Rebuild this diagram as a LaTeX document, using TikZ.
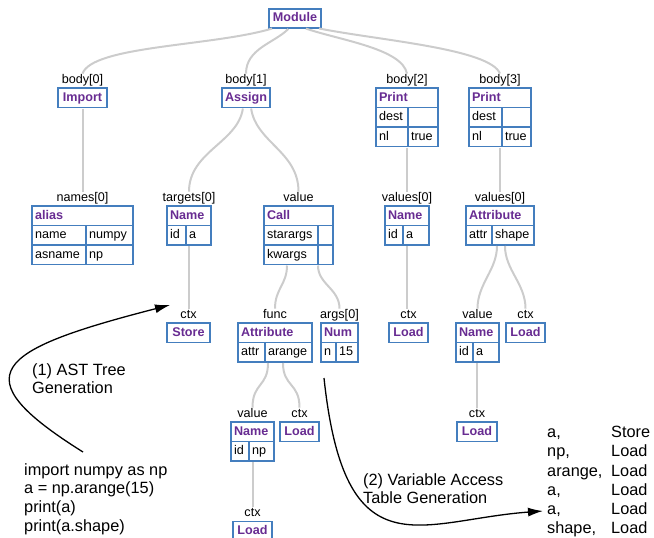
\documentclass[tikz,border=0pt]{standalone}
\usepackage{fontspec}
\setmainfont{Liberation Sans}
\usetikzlibrary{positioning,arrows.meta}
\definecolor{boxblue}{RGB}{68,126,190}
\definecolor{astpurple}{RGB}{104,44,146}
\definecolor{linkgray}{RGB}{204,204,204}
\tikzstyle{box} = [draw=boxblue, fill=white, line width=1.8pt, outer sep=0pt, inner xsep=3pt, inner ysep=0pt, minimum height=19.5pt, text height=9.5pt, text depth=3pt, font=\fontsize{12.6}{15}\selectfont]
\tikzstyle{typebox} = [box, text=astpurple, font=\fontsize{12.6}{15}\selectfont\bfseries]
\tikzstyle{head} = [typebox, align=left, anchor=north west]
\tikzstyle{cell} = [box, align=left, anchor=north west]
\tikzstyle{field} = [inner sep=0pt, text height=9.5pt, text depth=3pt, font=\fontsize{12.6}{15}\selectfont]
\tikzstyle{link} = [draw=linkgray, line width=2pt, shorten <=1pt]
\tikzstyle{flow} = [draw, line width=1.3pt, -{Latex[length=15pt,width=9pt]}]
\tikzstyle{note} = [inner sep=0pt, align=left, anchor=north west, font=\fontsize{16.3}{18.8}\selectfont]

\begin{document}
\begin{tikzpicture}[x=1pt, y=-1pt]
    \useasboundingbox (0,0) rectangle (654,538);
    % module and body
    \node[typebox, minimum width=52pt] (module) at (295,18.5) {Module};
    \node[typebox, minimum width=49pt, anchor=north west] (import) at (58,88) {Import};
    \node[field, above=1.5pt of import] (importlbl) {body[0]};
    \node[typebox, minimum width=48pt, anchor=north west] (assign) at (222,88) {Assign};
    \node[field, above=1.5pt of assign] (assignlbl) {body[1]};
    \node[head, text width=56pt] (printa) at (376,88) {Print};
    \node[cell, text width=26pt] (printak1) at (printa.south west) {dest};
    \node[cell, text width=24pt] (printav1) at (printak1.north east) {};
    \node[cell, text width=26pt] (printak2) at (printak1.south west) {nl};
    \node[cell, text width=24pt] (printav2) at (printak2.north east) {true};
    \node[field, above=1.5pt of printa] (printalbl) {body[2]};
    \node[head, text width=56pt] (printb) at (469,88) {Print};
    \node[cell, text width=27pt] (printbk1) at (printb.south west) {dest};
    \node[cell, text width=23pt] (printbv1) at (printbk1.north east) {};
    \node[cell, text width=27pt] (printbk2) at (printbk1.south west) {nl};
    \node[cell, text width=23pt] (printbv2) at (printbk2.north east) {true};
    \node[field, above=1.5pt of printb] (printblbl) {body[3]};

    % second level
    \node[head, text width=95pt] (alias) at (32,206) {alias};
    \node[cell, text width=48pt] (aliask1) at (alias.south west) {name};
    \node[cell, text width=41pt] (aliasv1) at (aliask1.north east) {numpy};
    \node[cell, text width=48pt] (aliask2) at (aliask1.south west) {asname};
    \node[cell, text width=41pt] (aliasv2) at (aliask2.north east) {np};
    \node[field, above=1.5pt of alias] (aliaslbl) {names[0]};
    \node[head, text width=38pt] (namet) at (167,206) {Name};
    \node[cell, text width=13pt] (nametk1) at (namet.south west) {id};
    \node[cell, text width=19pt] (nametv1) at (nametk1.north east) {a};
    \node[field, above=1.5pt of namet] (nametlbl) {targets[0]};
    \node[head, text width=63pt] (call) at (264,206) {Call};
    \node[cell, text width=48pt] (callk1) at (call.south west) {starargs};
    \node[cell, text width=9pt] (callv1) at (callk1.north east) {};
    \node[cell, text width=48pt] (callk2) at (callk1.south west) {kwargs};
    \node[cell, text width=9pt] (callv2) at (callk2.north east) {};
    \node[field, above=1.5pt of call] (calllbl) {value};
    \node[head, text width=38pt] (namev) at (385,206) {Name};
    \node[cell, text width=12pt] (namevk1) at (namev.south west) {id};
    \node[cell, text width=20pt] (namevv1) at (namevk1.north east) {a};
    \node[field, above=1.5pt of namev] (namevlbl) {values[0]};
    \node[head, text width=62pt] (attrs) at (466,206) {Attribute};
    \node[cell, text width=20pt] (attrsk1) at (attrs.south west) {attr};
    \node[cell, text width=36pt] (attrsv1) at (attrsk1.north east) {shape};
    \node[field, above=1.5pt of attrs] (attrslbl) {values[0]};

    % third level
    \node[typebox, minimum width=43pt, anchor=north west] (store) at (167,323) {Store};
    \node[field, above=1.5pt of store] (storelbl) {ctx};
    \node[head, text width=68pt] (attrf) at (238,323) {Attribute};
    \node[cell, text width=21pt] (attrfk1) at (attrf.south west) {attr};
    \node[cell, text width=41pt] (attrfv1) at (attrfk1.north east) {arange};
    \node[field, above=1.5pt of attrf] (attrflbl) {func};
    \node[head, text width=31pt] (num) at (321,323) {Num};
    \node[cell, text width=9pt] (numk1) at (num.south west) {n};
    \node[cell, text width=16pt] (numv1) at (numk1.north east) {15};
    \node[field, above=1.5pt of num] (numlbl) {args[0]};
    \node[typebox, minimum width=39pt, anchor=north west] (loada) at (389,323) {Load};
    \node[field, above=1.5pt of loada] (loadalbl) {ctx};
    \node[head, text width=37pt] (namei) at (456,323) {Name};
    \node[cell, text width=11pt] (nameik1) at (namei.south west) {id};
    \node[cell, text width=20pt] (nameiv1) at (nameik1.north east) {a};
    \node[field, above=1.5pt of namei] (nameilbl) {value};
    \node[typebox, minimum width=39pt, anchor=north west] (loadb) at (506,323) {Load};
    \node[field, above=1.5pt of loadb] (loadblbl) {ctx};

    % fourth and fifth level
    \node[head, text width=37pt] (namenp) at (231,422) {Name};
    \node[cell, text width=12pt] (namenpk1) at (namenp.south west) {id};
    \node[cell, text width=19pt] (namenpv1) at (namenpk1.north east) {np};
    \node[field, above=1.5pt of namenp] (namenplbl) {value};
    \node[typebox, minimum width=39pt, anchor=north west] (loadc) at (280,422) {Load};
    \node[field, above=1.5pt of loadc] (loadclbl) {ctx};
    \node[typebox, minimum width=40pt, anchor=north west] (loadd) at (457,422) {Load};
    \node[field, above=1.5pt of loadd] (loaddlbl) {ctx};
    \node[typebox, minimum width=39pt, anchor=north west] (loade) at (233,521.5) {Load};
    \node[field, above=1.5pt of loade] (loadelbl) {ctx};

    % tree links
    \draw[link] ([xshift=-22pt]module.south) .. controls +(-60,18) and +(10,-28) .. (importlbl.north);
    \draw[link] ([xshift=-6pt]module.south) .. controls +(-15,15) and +(0,-25) .. (assignlbl.north);
    \draw[link] ([xshift=10pt]module.south) .. controls +(35,12) and +(-5,-25) .. (printalbl.north);
    \draw[link] ([xshift=23pt]module.south) .. controls +(60,12) and +(-10,-25) .. (printblbl.north);
    \draw[link] (import.south) -- (aliaslbl.north);
    \draw[link] ([xshift=-3pt]assign.south) .. controls +(-5,35) and +(0,-40) .. (nametlbl.north);
    \draw[link] ([xshift=5pt]assign.south) .. controls +(5,35) and +(0,-40) .. (calllbl.north);
    \draw[link] (namevlbl.north |- printak2.south) -- (namevlbl.north);
    \draw[link] (attrslbl.north |- printbk2.south) -- (attrslbl.north);
    \draw[link] (storelbl.north |- nametk1.south) -- (storelbl.north);
    \draw[link] ([xshift=-4pt]callk2.south) .. controls +(0,20) and +(0,-20) .. (attrflbl.north);
    \draw[link] (callk2.south east) .. controls +(0,20) and +(0,-20) .. (numlbl.north);
    \draw[link] (namev.center |- namevk1.south) -- (namev.center |- loadalbl.north);
    \draw[link] ([xshift=5pt]attrsk1.south east) .. controls +(0,25) and +(0,-25) .. (nameilbl.north);
    \draw[link] ([xshift=13pt]attrsk1.south east) .. controls +(0,25) and +(0,-25) .. (loadblbl.north);
    \draw[link] ([xshift=3pt]attrfk1.south east) .. controls +(0,25) and +(0,-25) .. (namenplbl.north);
    \draw[link] ([xshift=18pt]attrfk1.south east) .. controls +(0,25) and +(0,-25) .. (loadclbl.north);
    \draw[link] (loaddlbl.north |- nameik1.south) -- (loaddlbl.north);
    \draw[link] (loadelbl.north |- namenpk1.south) -- (loadelbl.north);

    % source, notes and access table
    \node[note] (code) at (24,463) {import numpy as np\\a = np.arange(15)\\print(a)\\print(a.shape)};
    \node[note] (astnote) at (32,363) {(1) AST Tree\\Generation};
    \node[note] (tablenote) at (363,473) {(2) Variable Access\\Table Generation};
    \node[note, font=\fontsize{16.3}{19.2}\selectfont] (accesstable) at (547,424) {\begin{tabular}{@{}p{64pt}@{}l@{}}
        a, & Store\\ np, & Load\\ arange, & Load\\ a, & Load\\ a, & Load\\ shape, & Load
    \end{tabular}};
    \coordinate (codetop) at (83,452);
    \coordinate (asttip) at (170,305);
    \coordinate (funcfoot) at (324,378);
    \coordinate (tabletip) at (543,511);
    \draw[flow] (codetop) .. controls (-40,375) and (-5,350) .. (asttip);
    \draw[flow] (funcfoot) .. controls (345,575) and (420,520) .. (tabletip);
\end{tikzpicture}
\end{document}
